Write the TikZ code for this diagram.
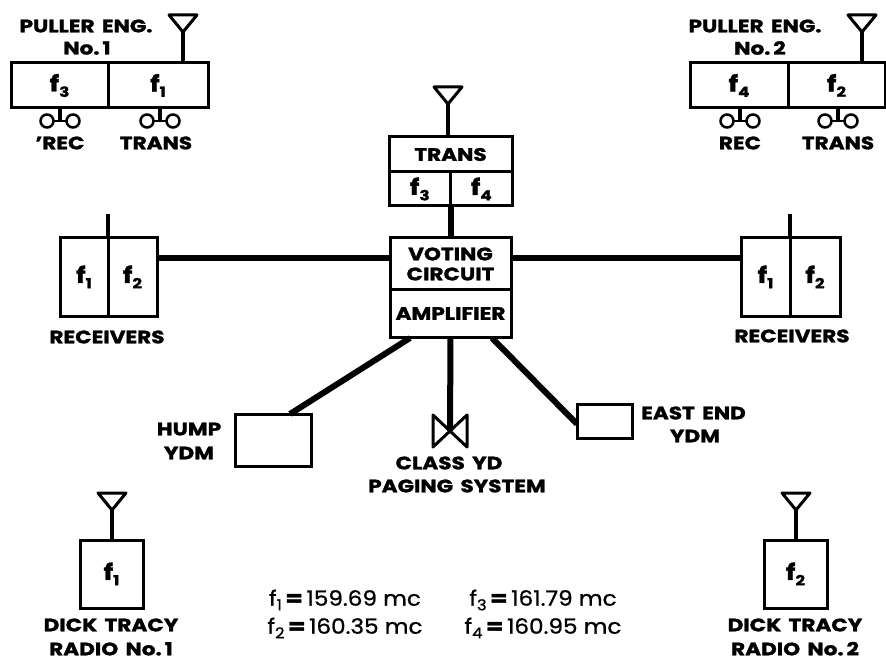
\documentclass[tikz,border=0pt]{standalone}
\usepackage{fontspec}
\setmainfont{Poppins}[UprightFeatures={FakeStretch=1.1,FakeBold=1},BoldFeatures={FakeStretch=1.2,FakeBold=1.5,WordSpace=1.6}]
\usetikzlibrary{positioning}
\newcommand{\fsub}[1]{{\fontsize{22}{22}\selectfont\bfseries f\raisebox{-0.45ex}{\fontsize{14}{14}\selectfont #1}}}
\newcommand{\fval}[2]{f\raisebox{-0.4ex}{\fontsize{15}{15}\selectfont #1}\,\textbf{=}\,#2}
\tikzset{
	unitbox/.style={draw, line width=3pt, inner sep=0pt, outer sep=0pt, font=\fontsize{18}{20}\selectfont\bfseries},
	lab/.style={inner sep=0pt, align=center, font=\fontsize{18}{24}\selectfont\bfseries},
	freq/.style={inner sep=0pt, font=\fontsize{21}{21}\selectfont},
	trunk/.style={line width=6pt},
	mast/.style={line width=3.5pt},
	antenna/.pic={
		\draw[line width=3pt, line join=round] (-14,0) -- (14,0) -- (0,17) -- cycle;
		\coordinate (-base) at (0,17);
	},
	wheels/.pic={
		\draw[line width=2.5pt] (-13,13) circle (6.5) (13,13) circle (6.5);
		\draw[line width=2.5pt] (-6,13) -- (6,13);
		\draw[mast] (0,0) -- (0,13);
	},
}
\begin{document}
\begin{tikzpicture}[x=1pt,y=-1pt]
	\useasboundingbox (0,0) rectangle (886,660);

	% Puller engine no. 1
	\node[lab] (eng1) at (86,26) {PULLER ENG.};
	\node[lab] (eng1no) at (87,48) {No.\,1};
	\node[unitbox, minimum width=97pt, minimum height=45pt] (eng1rec) at (59.5,85.5) {\fsub{3}};
	\node[unitbox, minimum width=100pt, minimum height=45pt, right=0pt of eng1rec] (eng1trans) {\fsub{1}};
	\pic (eng1ant) at (183,15) {antenna};
	\draw[mast] (eng1ant-base) -- (eng1ant-base |- eng1trans.north);
	\pic at (60,108) {wheels};
	\pic at (160,108) {wheels};
	\node[lab] (eng1reclab) at (60,143) {'REC};
	\node[lab] (eng1translab) at (156,143) {TRANS};

	% Puller engine no. 2
	\node[lab] (eng2) at (755,26) {PULLER ENG.};
	\node[lab] (eng2no) at (760,48) {No.\,2};
	\node[unitbox, minimum width=98pt, minimum height=45pt] (eng2rec) at (739,85.5) {\fsub{4}};
	\node[unitbox, minimum width=97pt, minimum height=45pt, right=0pt of eng2rec] (eng2trans) {\fsub{2}};
	\pic (eng2ant) at (862,15) {antenna};
	\draw[mast] (eng2ant-base) -- (eng2ant-base |- eng2trans.north);
	\pic at (740,108) {wheels};
	\pic at (838,108) {wheels};
	\node[lab] (eng2reclab) at (740,143) {REC};
	\node[lab] (eng2translab) at (838,143) {TRANS};

	% Base station
	\node[unitbox, minimum width=123pt, minimum height=35pt] (trans) at (450.5,154.5) {TRANS};
	\node[unitbox, minimum width=61.5pt, minimum height=34pt, below=0pt of trans.south west, anchor=north west] (transa) {\fsub{3}};
	\node[unitbox, minimum width=61.5pt, minimum height=34pt, right=0pt of transa] (transb) {\fsub{4}};
	\pic (transant) at (448,87) {antenna};
	\draw[mast] (transant-base) -- (trans.north -| transant-base);
	\node[unitbox, minimum width=121pt, minimum height=52pt, align=center] (voting) at (450.5,264) {VOTING\\CIRCUIT};
	\node[unitbox, minimum width=121pt, minimum height=47pt, below=0pt of voting] (amp) {AMPLIFIER};
	\draw[trunk] (transa.south east) -- (voting.north);

	% Receivers
	\node[unitbox, minimum width=48pt, minimum height=78pt] (recla) at (84,277) {\fsub{1}};
	\node[unitbox, minimum width=49pt, minimum height=78pt, right=0pt of recla] (reclb) {\fsub{2}};
	\coordinate (recltop) at (108,214);
	\draw[mast] (recltop) -- (recla.north east);
	\node[lab] (recllab) at (107,337) {RECEIVERS};
	\node[unitbox, minimum width=49pt, minimum height=78pt] (recra) at (765.5,277) {\fsub{1}};
	\node[unitbox, minimum width=50pt, minimum height=78pt, right=0pt of recra] (recrb) {\fsub{2}};
	\coordinate (recrtop) at (790,214);
	\draw[mast] (recrtop) -- (recra.north east);
	\node[lab] (recrlab) at (792,336) {RECEIVERS};
	\coordinate (reclend) at (157,258);
	\coordinate (recrend) at (741,258);
	\draw[trunk] (reclend) -- (reclend -| voting.west);
	\draw[trunk] (recrend) -- (recrend -| voting.east);

	% Yard units
	\node[unitbox, minimum width=76pt, minimum height=52pt] (hump) at (273,440) {};
	\node[lab] (humplab) at (189,441) {HUMP\\YDM};
	\node[unitbox, minimum width=55pt, minimum height=34pt] (east) at (604.5,421) {};
	\node[lab, anchor=west] (eastlab1) at (641,413) {EAST END};
	\node[lab] (eastlab2) at (695,436) {YDM};
	\coordinate (humpfrom) at (410,338);
	\coordinate (humpto) at (290,414);
	\coordinate (eastfrom) at (492,338);
	\coordinate (eastto) at (577,424);
	\coordinate (horn) at (450,431);
	\draw[trunk] (humpfrom) -- (humpto);
	\draw[trunk] (eastfrom) -- (eastto);
	\draw[trunk] (amp.south) -- (horn);
	\draw[line width=3pt, line join=round] (433,415) -- (467,447) -- (467,415) -- (433,447) -- cycle;
	\node[lab] (pagelab1) at (449,463) {CLASS YD};
	\node[lab] (pagelab2) at (457,486) {PAGING SYSTEM};

	% Hand radios
	\node[unitbox, minimum width=63pt, minimum height=68pt] (radio1) at (111.5,574) {\fsub{1}};
	\pic (radio1ant) at (112,493) {antenna};
	\draw[mast] (radio1ant-base) -- (radio1.north -| radio1ant-base);
	\node[lab] (radio1lab) at (111,637) {DICK TRACY\\RADIO No.\,1};
	\node[unitbox, minimum width=63pt, minimum height=68pt] (radio2) at (795.5,574) {\fsub{2}};
	\pic (radio2ant) at (796,493) {antenna};
	\draw[mast] (radio2ant-base) -- (radio2.north -| radio2ant-base);
	\node[lab] (radio2lab) at (795,637) {DICK TRACY\\RADIO No.\,2};

	% Frequencies
	\node[freq] (freqa) at (345,600) {\fval{1}{159.69 mc}};
	\node[freq] (freqb) at (345,628) {\fval{2}{160.35 mc}};
	\node[freq] (freqc) at (543,600) {\fval{3}{161.79 mc}};
	\node[freq] (freqd) at (543,628) {\fval{4}{160.95 mc}};
\end{tikzpicture}
\end{document}
